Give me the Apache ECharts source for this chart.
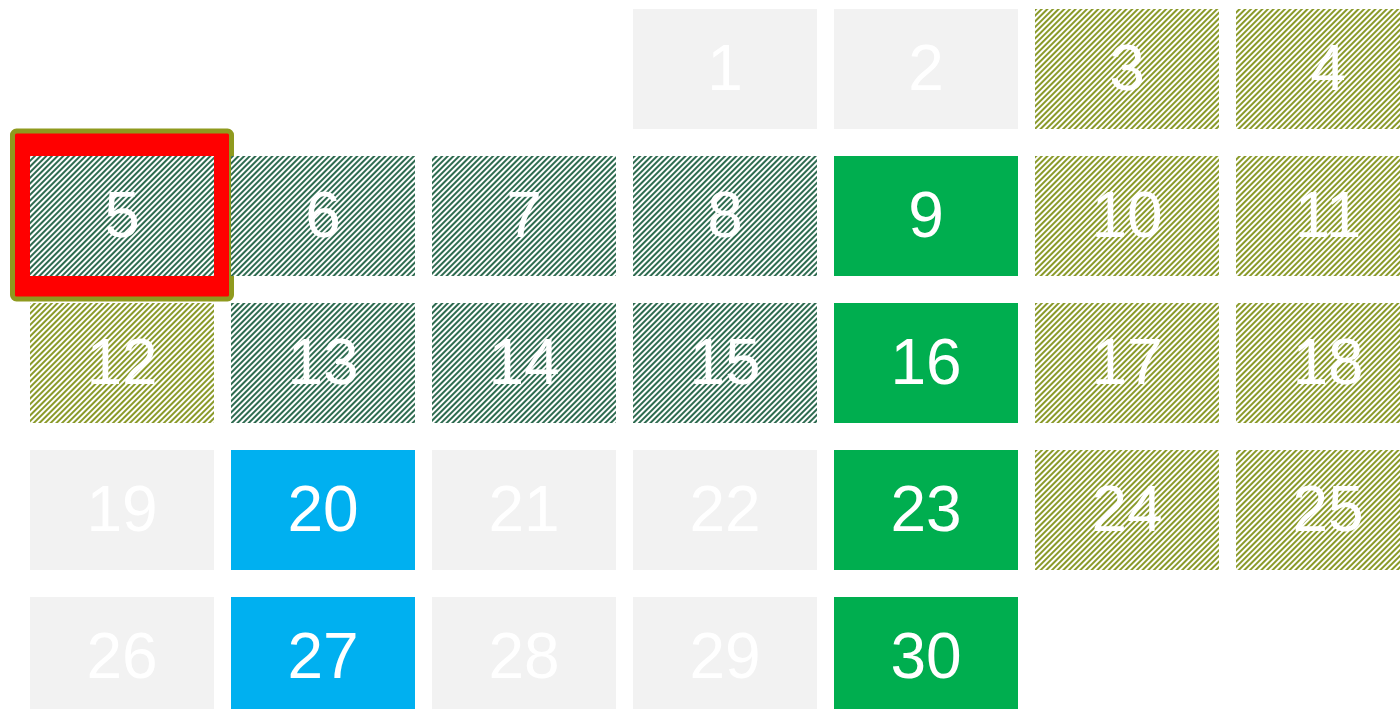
<!DOCTYPE html>
<html>
<head>
<meta charset="utf-8">
<script src="https://cdn.jsdelivr.net/npm/echarts@6/dist/echarts.min.js"></script>
<style>html,body{margin:0;padding:0;background:#fff}#c{width:1400px;height:709px}</style>
</head>
<body>
<div id="c"></div>
<script>
const monthKey = '2017-06';
const dayNumbers = [1,2,3,4,5,6,7,8,9,10,11,12,13,14,15,16,17,18,19,20,21,22,23,24,25,26,27,28,29,30];
const grayDays = [1,2,19,21,22,26,28,29];
const oliveDays = [3,4,10,11,12,17,18,24,25];
const darkDays = [5,6,7,8,13,14,15];
const greenDays = [9,16,23,30];
const blueDays = [20,27];
const selectedDays = [5];

const typeStyles = {
  gray:  {fill: '#f2f2f2', hatch: false},
  olive: {fill: '#8a9a2a', hatch: true},
  dark:  {fill: '#2e6b50', hatch: true},
  green: {fill: '#00ae4f', hatch: false},
  blue:  {fill: '#00b0f0', hatch: false}
};
function typeOf(d) {
  if (grayDays.includes(d)) return 'gray';
  if (oliveDays.includes(d)) return 'olive';
  if (darkDays.includes(d)) return 'dark';
  if (greenDays.includes(d)) return 'green';
  return 'blue';
}
function dateStr(d) { return monthKey + '-' + (d < 10 ? '0' + d : d); }

const cellData = dayNumbers.map(d => [dateStr(d), d, typeOf(d)]);
const selData = selectedDays.map(d => [dateStr(d), d]);

const CW = 184, CH = 120;
const chart = echarts.init(document.getElementById('c'), null, {renderer: 'canvas'});
chart.setOption({
  animation: false,
  calendar: {
    orient: 'vertical',
    range: monthKey,
    left: 21.5, top: -4.5,
    cellSize: [201, 147],
    dayLabel: {show: false, firstDay: 1},
    monthLabel: {show: false},
    yearLabel: {show: false},
    splitLine: {show: false},
    itemStyle: {color: 'transparent', borderWidth: 0, borderColor: 'transparent'}
  },
  series: [
    {
      type: 'custom',
      coordinateSystem: 'calendar',
      z: 1,
      data: selData,
      renderItem: function (params, api) {
        const p = api.coord([api.value(0), api.value(1)]);
        return {
          type: 'rect',
          shape: {x: p[0] - 109.5, y: p[1] - 85, width: 219, height: 168, r: 4},
          style: {fill: '#ff0000', stroke: '#8f9a1e', lineWidth: 5}
        };
      }
    },
    {
      type: 'custom',
      coordinateSystem: 'calendar',
      z: 2,
      data: cellData,
      renderItem: function (params, api) {
        const p = api.coord([api.value(0), api.value(1)]);
        const d = cellData[params.dataIndex];
        const st = typeStyles[d[2]];
        const rectStyle = {fill: st.fill};
        if (st.hatch) {
          rectStyle.decal = {
            symbol: 'rect',
            color: '#ffffff',
            dashArrayX: [1, 0],
            dashArrayY: [1.5, 1.5],
            rotation: -Math.PI / 4
          };
        }
        return {
          type: 'group',
          children: [
            {
              type: 'rect',
              shape: {x: p[0] - CW / 2, y: p[1] - CH / 2, width: CW, height: CH},
              style: rectStyle
            },
            {
              type: 'text',
              x: p[0], y: p[1] + 3,
              style: {
                text: String(d[1]),
                fill: '#ffffff',
                font: '64px "Liberation Sans", Arial, sans-serif',
                align: 'center',
                verticalAlign: 'middle'
              }
            }
          ]
        };
      }
    }
  ]
});
</script>
</body>
</html>
